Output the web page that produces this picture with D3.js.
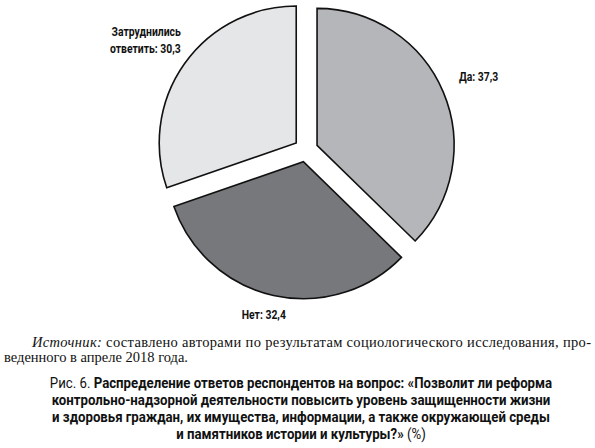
<!DOCTYPE html>
<html>
<head>
<meta charset="utf-8">
<script src="https://cdn.jsdelivr.net/npm/d3@7"></script>
<style>
    body { margin: 0; background: #fff; }
    .lbl { font-family: Roboto, "DejaVu Sans", sans-serif; font-weight: bold; font-size: 13px; }
    .src { font-family: "Liberation Serif", serif; font-size: 14.5px; }
    .cap { font-family: Roboto, "DejaVu Sans", sans-serif; font-size: 15px; }
</style>
</head>
<body>
<script>
// answers, clockwise from 12 o'clock
const categories = ["Да", "Нет", "Затруднились ответить"];
const values = [37.3, 32.4, 30.3];
const valueLabels = ["37,3", "32,4", "30,3"];
const colors = ["#b5b6b9", "#77787b", "#e5e6e8"];

const sourceLines = [
    "составлено авторами по результатам социологического исследования, про-",
    "веденного в апреле 2018 года."
];
const captionLines = [
    "Распределение ответов респондентов на вопрос: «Позволит ли реформа",
    "контрольно-надзорной деятельности повысить уровень защищенности жизни",
    "и здоровья граждан, их имущества, информации, а также окружающей среды",
    "и памятников истории и культуры?»"
];

const width = 595, height = 448;
const cx = 306, cy = 150;   // pie center
const radius = 137;
const explode = 12;         // how far each slice is pulled out

const svg = d3.select("body").append("svg")
    .attr("width", width)
    .attr("height", height);

const pie = d3.pie().sort(null).value(d => d);
const arcs = pie(values);

const arc = d3.arc().innerRadius(0).outerRadius(radius);
const mid = d => (d.startAngle + d.endAngle) / 2;

const chart = svg.append("g").attr("transform", "translate(" + cx + "," + cy + ")");

// slices, each shifted out along its bisector
chart.selectAll(".slice")
    .data(arcs)
    .enter().append("path")
    .attr("class", "slice")
    .attr("transform", d => "translate(" + explode * Math.sin(mid(d)) + "," + (-explode * Math.cos(mid(d))) + ")")
    .attr("d", arc)
    .attr("fill", (d, i) => colors[i])
    .attr("stroke", "#111")
    .attr("stroke-width", 1.6)
    .attr("stroke-linejoin", "miter");

// labels outside the pie; the font is squeezed horizontally to look condensed
const labelR = 166;
const labelK = 0.8;
const anchors = ["start", "middle", "end"];
const nudge = [[0, -5], [-6, 7], [10, -5]];
const labels = chart.selectAll(".lbl")
    .data(arcs)
    .enter().append("text")
    .attr("class", "lbl")
    .attr("fill", "#111")
    .attr("text-anchor", (d, i) => anchors[i])
    .attr("transform", (d, i) => "translate(" + (labelR * Math.sin(mid(d)) + nudge[i][0]) + "," +
        (-labelR * Math.cos(mid(d)) + nudge[i][1]) + ") scale(" + labelK + ",1)");

labels.each(function(d, i) {
    const t = d3.select(this);
    if (i === 2) {
        // two lines for the long label
        t.append("tspan").attr("x", 0).attr("dy", -13).text("Затруднились");
        t.append("tspan").attr("x", 0).attr("dy", 17).text("ответить: " + valueLabels[i]);
    } else {
        t.text(categories[i] + ": " + valueLabels[i]);
    }
});

// source note (justified first line)
const src = svg.append("g").attr("class", "src").attr("fill", "#111");
const s1 = src.append("text").attr("x", 32).attr("y", 347)
    .attr("textLength", 559).attr("lengthAdjust", "spacing");
s1.append("tspan").attr("font-style", "italic").text("Источник: ");
s1.append("tspan").text(sourceLines[0]);
src.append("text").attr("x", 4).attr("y", 362).text(sourceLines[1]);

// figure caption, condensed to the width of the column
const cap = svg.append("g").attr("class", "cap").attr("fill", "#111");
captionLines.forEach((line, i) => {
    const t = cap.append("text")
        .attr("x", 0)
        .attr("y", 388 + i * 17)
        .attr("text-anchor", "middle");
    if (i === 0) t.append("tspan").text("Рис. 6. ");
    t.append("tspan").attr("font-weight", "bold").text(line);
    if (i === captionLines.length - 1) t.append("tspan").text(" (%)");
});
const firstW = cap.select("text").node().getComputedTextLength();
const capK = 503 / firstW;
cap.attr("transform", "translate(301,0) scale(" + capK + ",1)");
</script>
</body>
</html>
